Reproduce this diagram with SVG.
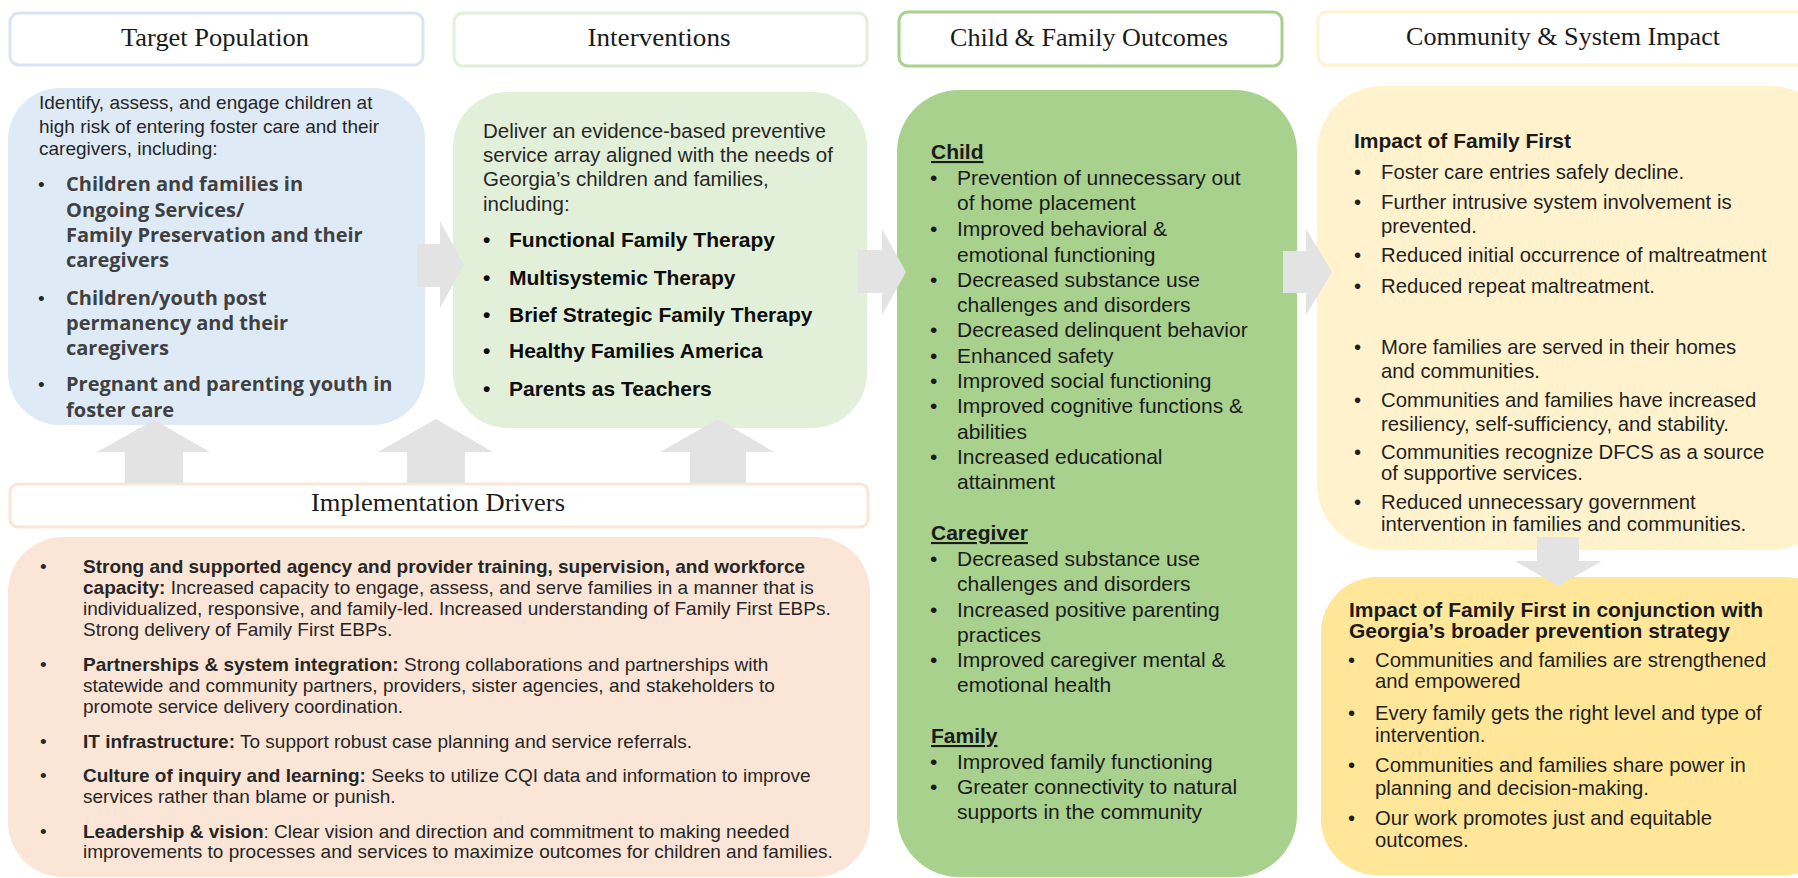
<svg xmlns="http://www.w3.org/2000/svg" width="1798" height="878" viewBox="0 0 1798 878">
<style>
.hdr{fill:#fff;stroke-width:3}
.htxt{font-family:"Liberation Serif",serif;font-size:25px;fill:#1a1a1a;text-anchor:middle}
.t{font-family:"Liberation Sans",Arial,sans-serif;fill:#262626}
.b{font-weight:bold}
.blue{font-size:19px}
.bb{font-family:"Open Sans","Liberation Sans",sans-serif;font-weight:700;font-size:20px;fill:#404040}
.iv{font-size:20.5px}
.ivb{font-size:21px;font-weight:bold;fill:#0d0d0d}
.gr{font-size:21px;fill:#1a1a1a}
.yl{font-size:20.3px;fill:#1f1f1f}
.ylb{font-size:21px;font-weight:bold;fill:#1a1a1a}
.im{font-size:19px;fill:#262626}
.arr{fill:#e3e3e3}
</style>

<g id="hdr-target">
<rect class="hdr" x="10" y="13" width="413" height="52" rx="9" stroke="#dae5f4"/>
<text class="htxt" x="215" y="46" textLength="188" lengthAdjust="spacingAndGlyphs">Target Population</text>
</g>
<g id="hdr-interventions">
<rect class="hdr" x="454" y="13" width="413" height="53" rx="9" stroke="#e2efda"/>
<text class="htxt" x="659" y="46" textLength="143" lengthAdjust="spacingAndGlyphs">Interventions</text>
</g>
<g id="hdr-outcomes">
<rect class="hdr" x="899" y="12" width="383" height="54" rx="9" stroke="#a9d18e"/>
<text class="htxt" x="1089" y="46" textLength="278" lengthAdjust="spacingAndGlyphs">Child &amp; Family Outcomes</text>
</g>
<g id="hdr-impact">
<rect class="hdr" x="1318" y="12" width="500" height="53" rx="9" stroke="#fff2cc"/>
<text class="htxt" x="1563" y="45" textLength="314" lengthAdjust="spacingAndGlyphs">Community &amp; System Impact</text>
</g>

<g id="target-population">
<rect x="8" y="88" width="417" height="337" rx="52" fill="#deebf7"/>
<text class="t blue" x="39" y="109">Identify, assess, and engage children at</text>
<text class="t blue" x="39" y="133">high risk of entering foster care and their</text>
<text class="t blue" x="39" y="155">caregivers, including:</text>
<text class="t blue" x="38" y="191">•</text>
<text class="bb" x="66" y="191">Children and families in</text>
<text class="bb" x="66" y="217">Ongoing Services/</text>
<text class="bb" x="66" y="242">Family Preservation and their</text>
<text class="bb" x="66" y="267">caregivers</text>
<text class="t blue" x="38" y="305">•</text>
<text class="bb" x="66" y="305">Children/youth post</text>
<text class="bb" x="66" y="330">permanency and their</text>
<text class="bb" x="66" y="355">caregivers</text>
<text class="t blue" x="38" y="391">•</text>
<text class="bb" x="66" y="391">Pregnant and parenting youth in</text>
<text class="bb" x="66" y="417">foster care</text>
</g>

<g id="interventions">
<rect x="453" y="92" width="414" height="336" rx="55" fill="#e2f0d9"/>
<text class="t iv" x="483" y="138">Deliver an evidence-based preventive</text>
<text class="t iv" x="483" y="162">service array aligned with the needs of</text>
<text class="t iv" x="483" y="186">Georgia’s children and families,</text>
<text class="t iv" x="483" y="211">including:</text>
<text class="t ivb" x="483" y="247">•</text><text class="t ivb" x="509" y="247">Functional Family Therapy</text>
<text class="t ivb" x="483" y="285">•</text><text class="t ivb" x="509" y="285">Multisystemic Therapy</text>
<text class="t ivb" x="483" y="322">•</text><text class="t ivb" x="509" y="322">Brief Strategic Family Therapy</text>
<text class="t ivb" x="483" y="358">•</text><text class="t ivb" x="509" y="358">Healthy Families America</text>
<text class="t ivb" x="483" y="396">•</text><text class="t ivb" x="509" y="396">Parents as Teachers</text>
</g>

<g id="outcomes">
<rect x="897" y="90" width="400" height="787" rx="62" fill="#a9d18e"/>
<text class="t gr b" x="931" y="159" text-decoration="underline">Child</text>
<text class="t gr" x="930" y="185">•</text><text class="t gr" x="957" y="185">Prevention of unnecessary out</text>
<text class="t gr" x="957" y="210">of home placement</text>
<text class="t gr" x="930" y="236">•</text><text class="t gr" x="957" y="236">Improved behavioral &amp;</text>
<text class="t gr" x="957" y="262">emotional functioning</text>
<text class="t gr" x="930" y="287">•</text><text class="t gr" x="957" y="287">Decreased substance use</text>
<text class="t gr" x="957" y="312">challenges and disorders</text>
<text class="t gr" x="930" y="337">•</text><text class="t gr" x="957" y="337">Decreased delinquent behavior</text>
<text class="t gr" x="930" y="363">•</text><text class="t gr" x="957" y="363">Enhanced safety</text>
<text class="t gr" x="930" y="388">•</text><text class="t gr" x="957" y="388">Improved social functioning</text>
<text class="t gr" x="930" y="413">•</text><text class="t gr" x="957" y="413">Improved cognitive functions &amp;</text>
<text class="t gr" x="957" y="439">abilities</text>
<text class="t gr" x="930" y="464">•</text><text class="t gr" x="957" y="464">Increased educational</text>
<text class="t gr" x="957" y="489">attainment</text>
<text class="t gr b" x="931" y="540" text-decoration="underline">Caregiver</text>
<text class="t gr" x="930" y="566">•</text><text class="t gr" x="957" y="566">Decreased substance use</text>
<text class="t gr" x="957" y="591">challenges and disorders</text>
<text class="t gr" x="930" y="617">•</text><text class="t gr" x="957" y="617">Increased positive parenting</text>
<text class="t gr" x="957" y="642">practices</text>
<text class="t gr" x="930" y="667">•</text><text class="t gr" x="957" y="667">Improved caregiver mental &amp;</text>
<text class="t gr" x="957" y="692">emotional health</text>
<text class="t gr b" x="931" y="743" text-decoration="underline">Family</text>
<text class="t gr" x="930" y="769">•</text><text class="t gr" x="957" y="769">Improved family functioning</text>
<text class="t gr" x="930" y="794">•</text><text class="t gr" x="957" y="794">Greater connectivity to natural</text>
<text class="t gr" x="957" y="819">supports in the community</text>
</g>

<g id="impact-family-first">
<rect x="1317" y="86" width="520" height="464" rx="66" fill="#fff2cc"/>
<text class="t ylb" x="1354" y="148">Impact of Family First</text>
<text class="t yl" x="1354" y="179">•</text><text class="t yl" x="1381" y="179">Foster care entries safely decline.</text>
<text class="t yl" x="1354" y="209">•</text><text class="t yl" x="1381" y="209">Further intrusive system involvement is</text>
<text class="t yl" x="1381" y="233">prevented.</text>
<text class="t yl" x="1354" y="262">•</text><text class="t yl" x="1381" y="262">Reduced initial occurrence of maltreatment</text>
<text class="t yl" x="1354" y="293">•</text><text class="t yl" x="1381" y="293">Reduced repeat maltreatment.</text>
<text class="t yl" x="1354" y="354">•</text><text class="t yl" x="1381" y="354">More families are served in their homes</text>
<text class="t yl" x="1381" y="378">and communities.</text>
<text class="t yl" x="1354" y="407">•</text><text class="t yl" x="1381" y="407">Communities and families have increased</text>
<text class="t yl" x="1381" y="431">resiliency, self-sufficiency, and stability.</text>
<text class="t yl" x="1354" y="459">•</text><text class="t yl" x="1381" y="459">Communities recognize DFCS as a source</text>
<text class="t yl" x="1381" y="480">of supportive services.</text>
<text class="t yl" x="1354" y="509">•</text><text class="t yl" x="1381" y="509">Reduced unnecessary government</text>
<text class="t yl" x="1381" y="531">intervention in families and communities.</text>
</g>

<g id="impact-broader">
<rect x="1321" y="577" width="520" height="298" rx="56" fill="#ffe699"/>
<text class="t ylb" x="1349" y="617">Impact of Family First in conjunction with</text>
<text class="t ylb" x="1349" y="638">Georgia’s broader prevention strategy</text>
<text class="t yl" x="1348" y="667">•</text><text class="t yl" x="1375" y="667">Communities and families are strengthened</text>
<text class="t yl" x="1375" y="688">and empowered</text>
<text class="t yl" x="1348" y="720">•</text><text class="t yl" x="1375" y="720">Every family gets the right level and type of</text>
<text class="t yl" x="1375" y="742">intervention.</text>
<text class="t yl" x="1348" y="772">•</text><text class="t yl" x="1375" y="772">Communities and families share power in</text>
<text class="t yl" x="1375" y="795">planning and decision-making.</text>
<text class="t yl" x="1348" y="825">•</text><text class="t yl" x="1375" y="825">Our work promotes just and equitable</text>
<text class="t yl" x="1375" y="847">outcomes.</text>
</g>

<g id="hdr-drivers">
<rect class="hdr" x="10" y="484" width="858" height="43" rx="8" stroke="#fbe5d6" stroke-width="4"/>
<text class="htxt" x="438" y="511" textLength="254" lengthAdjust="spacingAndGlyphs">Implementation Drivers</text>
</g>

<g id="drivers">
<rect x="8" y="537" width="862" height="340" rx="55" fill="#fbe5d6"/>
<text class="t im" x="40" y="573">•</text>
<text class="t im b" x="83" y="573">Strong and supported agency and provider training, supervision, and workforce</text>
<text class="t im" x="83" y="594"><tspan class="b">capacity:</tspan> Increased capacity to engage, assess, and serve families in a manner that is</text>
<text class="t im" x="83" y="615">individualized, responsive, and family-led. Increased understanding of Family First EBPs.</text>
<text class="t im" x="83" y="636">Strong delivery of Family First EBPs.</text>
<text class="t im" x="40" y="671">•</text>
<text class="t im" x="83" y="671"><tspan class="b">Partnerships &amp; system integration:</tspan> Strong collaborations and partnerships with</text>
<text class="t im" x="83" y="692">statewide and community partners, providers, sister agencies, and stakeholders to</text>
<text class="t im" x="83" y="713">promote service delivery coordination.</text>
<text class="t im" x="40" y="748">•</text>
<text class="t im" x="83" y="748"><tspan class="b">IT infrastructure:</tspan> To support robust case planning and service referrals.</text>
<text class="t im" x="40" y="782">•</text>
<text class="t im" x="83" y="782"><tspan class="b">Culture of inquiry and learning:</tspan> Seeks to utilize CQI data and information to improve</text>
<text class="t im" x="83" y="803">services rather than blame or punish.</text>
<text class="t im" x="40" y="838">•</text>
<text class="t im" x="83" y="838"><tspan class="b">Leadership &amp; vision</tspan>: Clear vision and direction and commitment to making needed</text>
<text class="t im" x="83" y="858">improvements to processes and services to maximize outcomes for children and families.</text>
</g>

<g id="connectors">
<polygon class="arr" points="417,244 440,244 440,221 464,265 440,308 440,287 417,287"/>
<polygon class="arr" points="858,250 882,250 882,229 906,272 882,315 882,293 858,293"/>
<polygon class="arr" points="1283,251 1306,251 1306,229 1332,272 1306,315 1306,293 1283,293"/>
<polygon class="arr" points="125,483 125,452 97,452 154,420 210,452 183,452 183,483"/>
<polygon class="arr" points="407,483 407,452 378,452 436,419 493,452 465,452 465,483"/>
<polygon class="arr" points="690,483 690,452 660,452 718,419 774,452 746,452 746,483"/>
<polygon class="arr" points="1537,537 1579,537 1579,561 1602,561 1558,586 1515,561 1537,561"/>
</g>
</svg>
